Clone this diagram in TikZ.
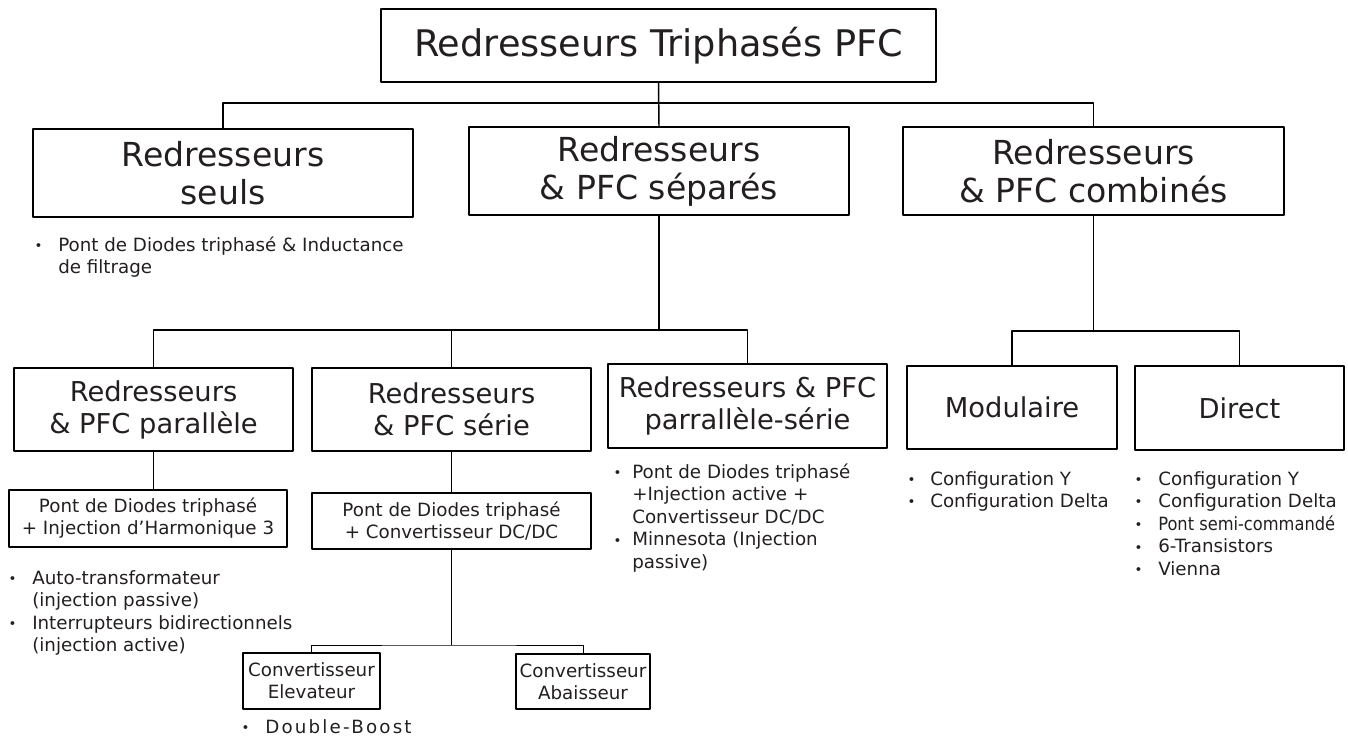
\documentclass[tikz,border=0pt]{standalone}
\usepackage{fontspec}
\setmainfont{DejaVu Sans}
\newfontfamily\condfont[FakeStretch=0.89]{DejaVu Sans}
\newfontfamily\spacedfont[LetterSpace=12]{DejaVu Sans}
\usepackage{tikz}
\usetikzlibrary{calc}
\definecolor{txtgray}{RGB}{35,31,32}
\newdimen\px \px=0.75pt
\newcommand{\bul}[1]{\makebox[#1\px][l]{\hspace{-0.5pt}\raisebox{0.6pt}{\fontsize{10}{10}\selectfont •}}}
\newcommand{\ind}[1]{\hspace*{#1\px}}
\newcommand{\fl}{\rule{0pt}{14pt}}
\tikzstyle{every node}=[text=txtgray,inner sep=0pt]
\tikzstyle{titlebox}=[draw,line width=1.3pt,align=center,font=\fontsize{27.5}{33}\selectfont]
\tikzstyle{catbox}=[draw,line width=1.3pt,align=center,minimum width=380\px,minimum height=88\px,font=\fontsize{24.8}{28.5}\selectfont]
\tikzstyle{subbox}=[draw,line width=1.2pt,align=center,minimum width=279\px,minimum height=83\px,font=\fontsize{20.5}{24}\selectfont]
\tikzstyle{pontbox}=[draw,line width=1pt,align=center,minimum width=279\px,minimum height=56\px,font=\fontsize{13.7}{16.5}\selectfont]
\tikzstyle{convbox}=[draw,line width=0.8pt,align=center,minimum width=136\px,minimum height=56\px,font=\fontsize{13.7}{16.5}\selectfont]
\tikzstyle{listnode}=[anchor=north west,align=left,font=\fontsize{13.7}{16.9}\selectfont]
\tikzstyle{conn}=[line width=1.1pt]
\tikzstyle{thinconn}=[line width=0.6pt]

\begin{document}
\begin{tikzpicture}[line cap=round,line join=round,x=0.75pt,y=-0.75pt]
\useasboundingbox (0,0) rectangle (1348,742);
\node[titlebox,minimum width=555\px,minimum height=73\px] (top) at (658.5,45.5) {Redresseurs Triphasés PFC};
\node[catbox] (seuls) at (223,173) {Redresseurs\\seuls};
\node[catbox] (sep) at (659,171) {Redresseurs\\\& PFC séparés};
\node[catbox,minimum width=381\px] (combi) at (1093.5,171) {Redresseurs\\\& PFC combinés};
\node[subbox] (para) at (153.5,409.5) {Redresseurs\\\& PFC parallèle};
\node[subbox] (serie) at (451.5,409.5) {Redresseurs\\\& PFC série};
\node[subbox,minimum height=84\px] (paraserie) at (747.5,406) {Redresseurs \& PFC\\parrallèle-série};
\node[subbox,minimum width=210\px] (modu) at (1012,407.5) {Modulaire};
\node[subbox,minimum width=209\px,minimum height=84\px] (direct) at (1239.5,408) {Direct};
\node[pontbox,minimum width=278\px,minimum height=57\px] (pontpara) at (148,518.5) {Pont de Diodes triphasé\\+ Injection d’Harmonique 3};
\node[pontbox] (pontserie) at (451.5,521) {Pont de Diodes triphasé\\+ Convertisseur DC/DC};
\node[convbox,minimum width=137\px] (elev) at (311.5,681) {Convertisseur\\Elevateur};
\node[convbox,minimum width=134\px,minimum height=55\px] (abai) at (583,681.5) {Convertisseur\\Abaisseur};

\node[listnode] (seulslist) at (35,232.3) {\fl\bul{23}Pont de Diodes triphasé \& Inductance\\\ind{23}de filtrage};
\node[listnode] (pontparalist) at (9,565.3) {\fl\bul{23}Auto-transformateur\\\ind{23}(injection passive)\\\bul{23}Interrupteurs bidirectionnels\\\ind{23}(injection active)};
\node[listnode] (paraserielist) at (614,459.3) {\fl\bul{18}Pont de Diodes triphasé\\\ind{18}+Injection active +\\\ind{18}Convertisseur DC/DC\\\bul{18}Minnesota (Injection\\\ind{18}passive)};
\node[listnode] (modulist) at (908,466.3) {\fl\bul{22}Configuration Y\\\bul{22}Configuration Delta};
\node[listnode] (directlist) at (1135,466.3) {\fl\bul{23}Configuration Y\\\bul{23}Configuration Delta\\\bul{23}{\condfont Pont semi-commandé}\\\bul{23}6-Transistors\\\bul{23}Vienna};
\node[listnode] (elevlist) at (242,714.3) {\fl\bul{23}{\spacedfont Double-Boost}};

\coordinate (bar1) at (658,103);
\coordinate (bar2) at (451,330);
\coordinate (bar3) at (1094,331);
\coordinate (bar4) at (451,645);
\draw[conn] (seuls.north) |- (bar1) -| (combi.north);
\draw[conn] (top.south) -- (sep.north);
\draw[conn] (para.north) |- (bar2) -| (paraserie.north);
\draw[conn] (sep.south) -- (sep.south |- bar2);
\draw[conn] (serie.north) -- (serie.north |- bar2);
\draw[conn] (modu.north) |- (bar3) -| (direct.north);
\draw[conn] (combi.south) -- (combi.south |- bar3);
\draw[conn] (para.south) -- (para.south |- pontpara.north);
\draw[conn] (serie.south) -- (pontserie.north);
\draw[thinconn] (elev.north) |- (bar4) -| (abai.north);
\draw[thinconn] (pontserie.south) -- (pontserie.south |- bar4);
\end{tikzpicture}
\end{document}
